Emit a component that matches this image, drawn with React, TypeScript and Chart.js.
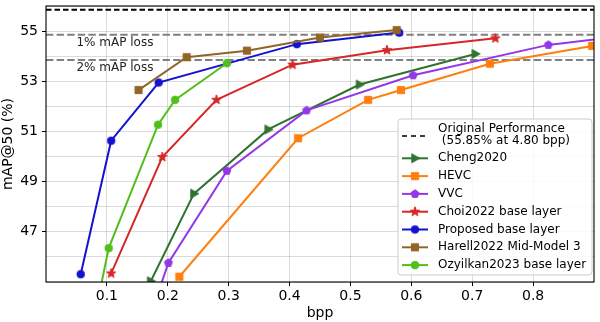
import React, { useEffect, useRef } from 'react';
import { Chart, registerables } from 'chart.js';

Chart.register(...registerables);

// ---- data ----
const chengBpp = [0.172, 0.243, 0.365, 0.515, 0.705];
const chengMap = [45.03, 48.52, 51.08, 52.87, 54.09];

const hevcBpp = [0.219, 0.414, 0.529, 0.583, 0.729, 0.897];
const hevcMap = [45.21, 50.73, 52.26, 52.65, 53.7, 54.41];

const vvcBpp = [0.176, 0.201, 0.297, 0.428, 0.603, 0.825, 1.0];
const vvcMap = [44.0, 45.76, 49.43, 51.84, 53.24, 54.45, 54.95];

const choiBpp = [0.107, 0.191, 0.28, 0.405, 0.56, 0.738];
const choiMap = [45.34, 49.98, 52.26, 53.66, 54.24, 54.71];

const proposedBpp = [0.057, 0.107, 0.185, 0.412, 0.58];
const proposedMap = [45.31, 50.63, 52.95, 54.48, 54.94];

const harellBpp = [0.152, 0.231, 0.33, 0.45, 0.576];
const harellMap = [52.65, 53.96, 54.22, 54.74, 55.04];

const ozyBpp = [0.083, 0.103, 0.184, 0.212, 0.297];
const ozyMap = [44.0, 46.35, 51.27, 52.26, 53.72];

const seriesNames = [
  'Cheng2020',
  'HEVC',
  'VVC',
  'Choi2022 base layer',
  'Proposed base layer',
  'Harell2022 Mid-Model 3',
  'Ozyilkan2023 base layer',
];
const seriesBpp = [chengBpp, hevcBpp, vvcBpp, choiBpp, proposedBpp, harellBpp, ozyBpp];
const seriesMap = [chengMap, hevcMap, vvcMap, choiMap, proposedMap, harellMap, ozyMap];

const originalPerf = 55.85;
const lossLines = [54.85, 53.85];
const lossLabels = ['1% mAP loss', '2% mAP loss'];
const lossLabelX = 0.05;
const lossLabelY = [54.55, 53.55];
const originalLabel = ['Original Performance', ' (55.85% at 4.80 bpp)'];

const xTicks = [0.1, 0.2, 0.3, 0.4, 0.5, 0.6, 0.7, 0.8];
const yGrid = [45, 46, 47, 48, 49, 50, 51, 52, 53, 54, 55, 56];
const yTickLabels = [47, 49, 51, 53, 55];

// ---- styles ----
const seriesColors = ['#2f7232', '#ff7f0e', '#9437e8', '#d62728', '#1212d0', '#926526', '#52be1a'];
const seriesMarkers = ['triRight', 'square', 'pentagon', 'star', 'circle', 'square', 'circle'];
const FONT = 'DejaVu Sans';

function makeMarker(shape: string, color: string): HTMLCanvasElement {
  const S = 14;
  const c = document.createElement('canvas');
  c.width = S;
  c.height = S;
  const g = c.getContext('2d')!;
  g.translate(S / 2, S / 2);
  g.fillStyle = color;
  g.strokeStyle = color;
  g.lineWidth = 1;
  g.beginPath();
  if (shape === 'circle') {
    g.arc(0, 0, 3.8, 0, Math.PI * 2);
  } else if (shape === 'square') {
    g.rect(-3.6, -3.6, 7.2, 7.2);
  } else if (shape === 'pentagon') {
    for (let i = 0; i < 5; i++) {
      const a = -Math.PI / 2 + (i * 2 * Math.PI) / 5;
      const px = 4.2 * Math.cos(a), py = 4.2 * Math.sin(a);
      if (i === 0) g.moveTo(px, py); else g.lineTo(px, py);
    }
    g.closePath();
  } else if (shape === 'star') {
    for (let i = 0; i < 10; i++) {
      const r = i % 2 === 0 ? 5 : 2;
      const a = -Math.PI / 2 + (i * Math.PI) / 5;
      const px = r * Math.cos(a), py = r * Math.sin(a);
      if (i === 0) g.moveTo(px, py); else g.lineTo(px, py);
    }
    g.closePath();
  } else if (shape === 'triRight') {
    g.moveTo(4.8, 0);
    g.lineTo(-3.2, 4.4);
    g.lineTo(-3.2, -4.4);
    g.closePath();
  }
  g.fill();
  g.stroke();
  return c;
}

const refLinesPlugin = {
  id: 'refLines',
  beforeDatasetsDraw(chart: any) {
    const { ctx, chartArea, scales } = chart;
    const ys = scales.y;
    const xs = scales.x;
    ctx.save();
    ctx.beginPath();
    ctx.rect(chartArea.left, chartArea.top, chartArea.right - chartArea.left, chartArea.bottom - chartArea.top);
    ctx.clip();
    ctx.strokeStyle = '#808080';
    ctx.lineWidth = 2;
    ctx.setLineDash([7.4, 3.2]);
    lossLines.forEach((v) => {
      const py = ys.getPixelForValue(v);
      ctx.beginPath();
      ctx.moveTo(chartArea.left, py);
      ctx.lineTo(chartArea.right, py);
      ctx.stroke();
    });
    ctx.strokeStyle = '#000';
    ctx.lineWidth = 1.8;
    ctx.setLineDash([5.5, 3]);
    const py0 = ys.getPixelForValue(originalPerf);
    ctx.beginPath();
    ctx.moveTo(chartArea.left, py0);
    ctx.lineTo(chartArea.right, py0);
    ctx.stroke();
    ctx.setLineDash([]);
    ctx.fillStyle = '#222';
    ctx.font = `12px "${FONT}"`;
    ctx.textAlign = 'left';
    ctx.textBaseline = 'middle';
    lossLabels.forEach((t, i) => {
      ctx.fillText(t, xs.getPixelForValue(lossLabelX), ys.getPixelForValue(lossLabelY[i]));
    });
    ctx.restore();
  },
  afterDatasetsDraw(chart: any) {
    const { ctx, chartArea } = chart;
    ctx.save();
    ctx.strokeStyle = '#000';
    ctx.lineWidth = 1.1;
    ctx.strokeRect(chartArea.left, chartArea.top, chartArea.right - chartArea.left, chartArea.bottom - chartArea.top);
    ctx.restore();
  },
};

const legendPlugin = {
  id: 'customLegend',
  afterDraw(chart: any) {
    const { ctx } = chart;
    const left = 398, top = 119, right = 592, bottom = 275;
    ctx.save();
    ctx.beginPath();
    const r = 3;
    ctx.moveTo(left + r, top);
    ctx.arcTo(right, top, right, bottom, r);
    ctx.arcTo(right, bottom, left, bottom, r);
    ctx.arcTo(left, bottom, left, top, r);
    ctx.arcTo(left, top, right, top, r);
    ctx.closePath();
    ctx.fillStyle = 'rgba(255,255,255,0.85)';
    ctx.fill();
    ctx.strokeStyle = '#cccccc';
    ctx.lineWidth = 1;
    ctx.stroke();

    const lx0 = 402, lx1 = 428, mx = 415, tx = 438;
    ctx.font = `12px "${FONT}"`;
    ctx.textAlign = 'left';
    ctx.textBaseline = 'middle';
    ctx.strokeStyle = '#000';
    ctx.lineWidth = 1.5;
    ctx.setLineDash([5, 4]);
    ctx.beginPath();
    ctx.moveTo(lx0, 136);
    ctx.lineTo(lx1, 136);
    ctx.stroke();
    ctx.setLineDash([]);
    ctx.fillStyle = '#000';
    ctx.fillText(originalLabel[0], tx, 129);
    ctx.fillText(originalLabel[1], tx, 141);

    const ds = chart.data.datasets;
    ds.forEach((d: any, i: number) => {
      const y = 158.3 + i * 17.8;
      ctx.strokeStyle = d.borderColor;
      ctx.lineWidth = 2;
      ctx.beginPath();
      ctx.moveTo(lx0, y);
      ctx.lineTo(lx1, y);
      ctx.stroke();
      const m = d.pointStyle as HTMLCanvasElement;
      ctx.drawImage(m, mx - m.width / 2, y - m.height / 2);
      ctx.fillStyle = '#000';
      ctx.fillText(d.label, tx, y);
    });
    ctx.restore();
  },
};

export default function App() {
  const ref = useRef<HTMLCanvasElement | null>(null);
  useEffect(() => {
    if (!ref.current) return;
    const datasets = seriesNames.map((name, i) => ({
      label: name,
      data: seriesBpp[i].map((x, j) => ({ x, y: seriesMap[i][j] })),
      borderColor: seriesColors[i],
      backgroundColor: seriesColors[i],
      borderWidth: 2,
      pointStyle: makeMarker(seriesMarkers[i], seriesColors[i]),
      pointRadius: 4,
      showLine: true,
      tension: 0,
      clip: 0,
      order: seriesNames.length - i,
    }));
    const chart = new Chart(ref.current, {
      type: 'scatter',
      data: { datasets },
      options: {
        animation: false,
        responsive: false,
        devicePixelRatio: 1,
        layout: { padding: { top: 1, right: 1, left: 0, bottom: 0 } },
        plugins: { legend: { display: false }, tooltip: { enabled: false } },
        events: [],
        scales: {
          x: {
            type: 'linear',
            min: 0,
            max: 0.9,
            afterBuildTicks: (axis: any) => {
              axis.ticks = xTicks.map((v) => ({ value: v }));
            },
            afterFit: (s: any) => {
              s.height = 40;
              s.paddingLeft = 0;
              s.paddingRight = 0;
            },
            border: { display: false },
            grid: { color: 'rgba(0,0,0,0.14)', lineWidth: 1, tickLength: 4, tickColor: '#000' },
            ticks: {
              autoSkip: false,
              maxRotation: 0,
              padding: 2,
              color: '#000',
              font: { family: FONT, size: 14 },
              callback: (v: any) => Number(v).toFixed(1),
            },
            title: {
              display: true,
              text: 'bpp',
              color: '#000',
              font: { family: FONT, size: 14 },
              padding: { top: 0, bottom: 0 },
            },
          },
          y: {
            type: 'linear',
            min: 45,
            max: 56,
            afterBuildTicks: (axis: any) => {
              axis.ticks = yGrid.map((v) => ({ value: v }));
            },
            afterFit: (s: any) => {
              s.width = 46;
              s.paddingTop = 0;
              s.paddingBottom = 0;
            },
            border: { display: false },
            grid: {
              color: 'rgba(0,0,0,0.14)',
              lineWidth: 1,
              tickLength: 4,
              tickColor: (c: any) => (c.tick && yTickLabels.includes(c.tick.value) ? '#000' : 'rgba(0,0,0,0)'),
            },
            ticks: {
              autoSkip: false,
              padding: 4,
              color: '#000',
              font: { family: FONT, size: 14 },
              callback: (v: any) => (yTickLabels.includes(Number(v)) ? String(v) : ''),
            },
            title: {
              display: true,
              text: 'mAP@50 (%)',
              color: '#000',
              font: { family: FONT, size: 14 },
              padding: { top: 0, bottom: 0 },
            },
          },
        },
      },
      plugins: [refLinesPlugin, legendPlugin],
    } as any);
    return () => chart.destroy();
  }, []);
  return (
    <div style={{ position: 'fixed', left: 0, top: 0, width: 600, height: 322, background: '#fff' }}>
      <canvas ref={ref} width={600} height={322} style={{ display: 'block' }} />
    </div>
  );
}
